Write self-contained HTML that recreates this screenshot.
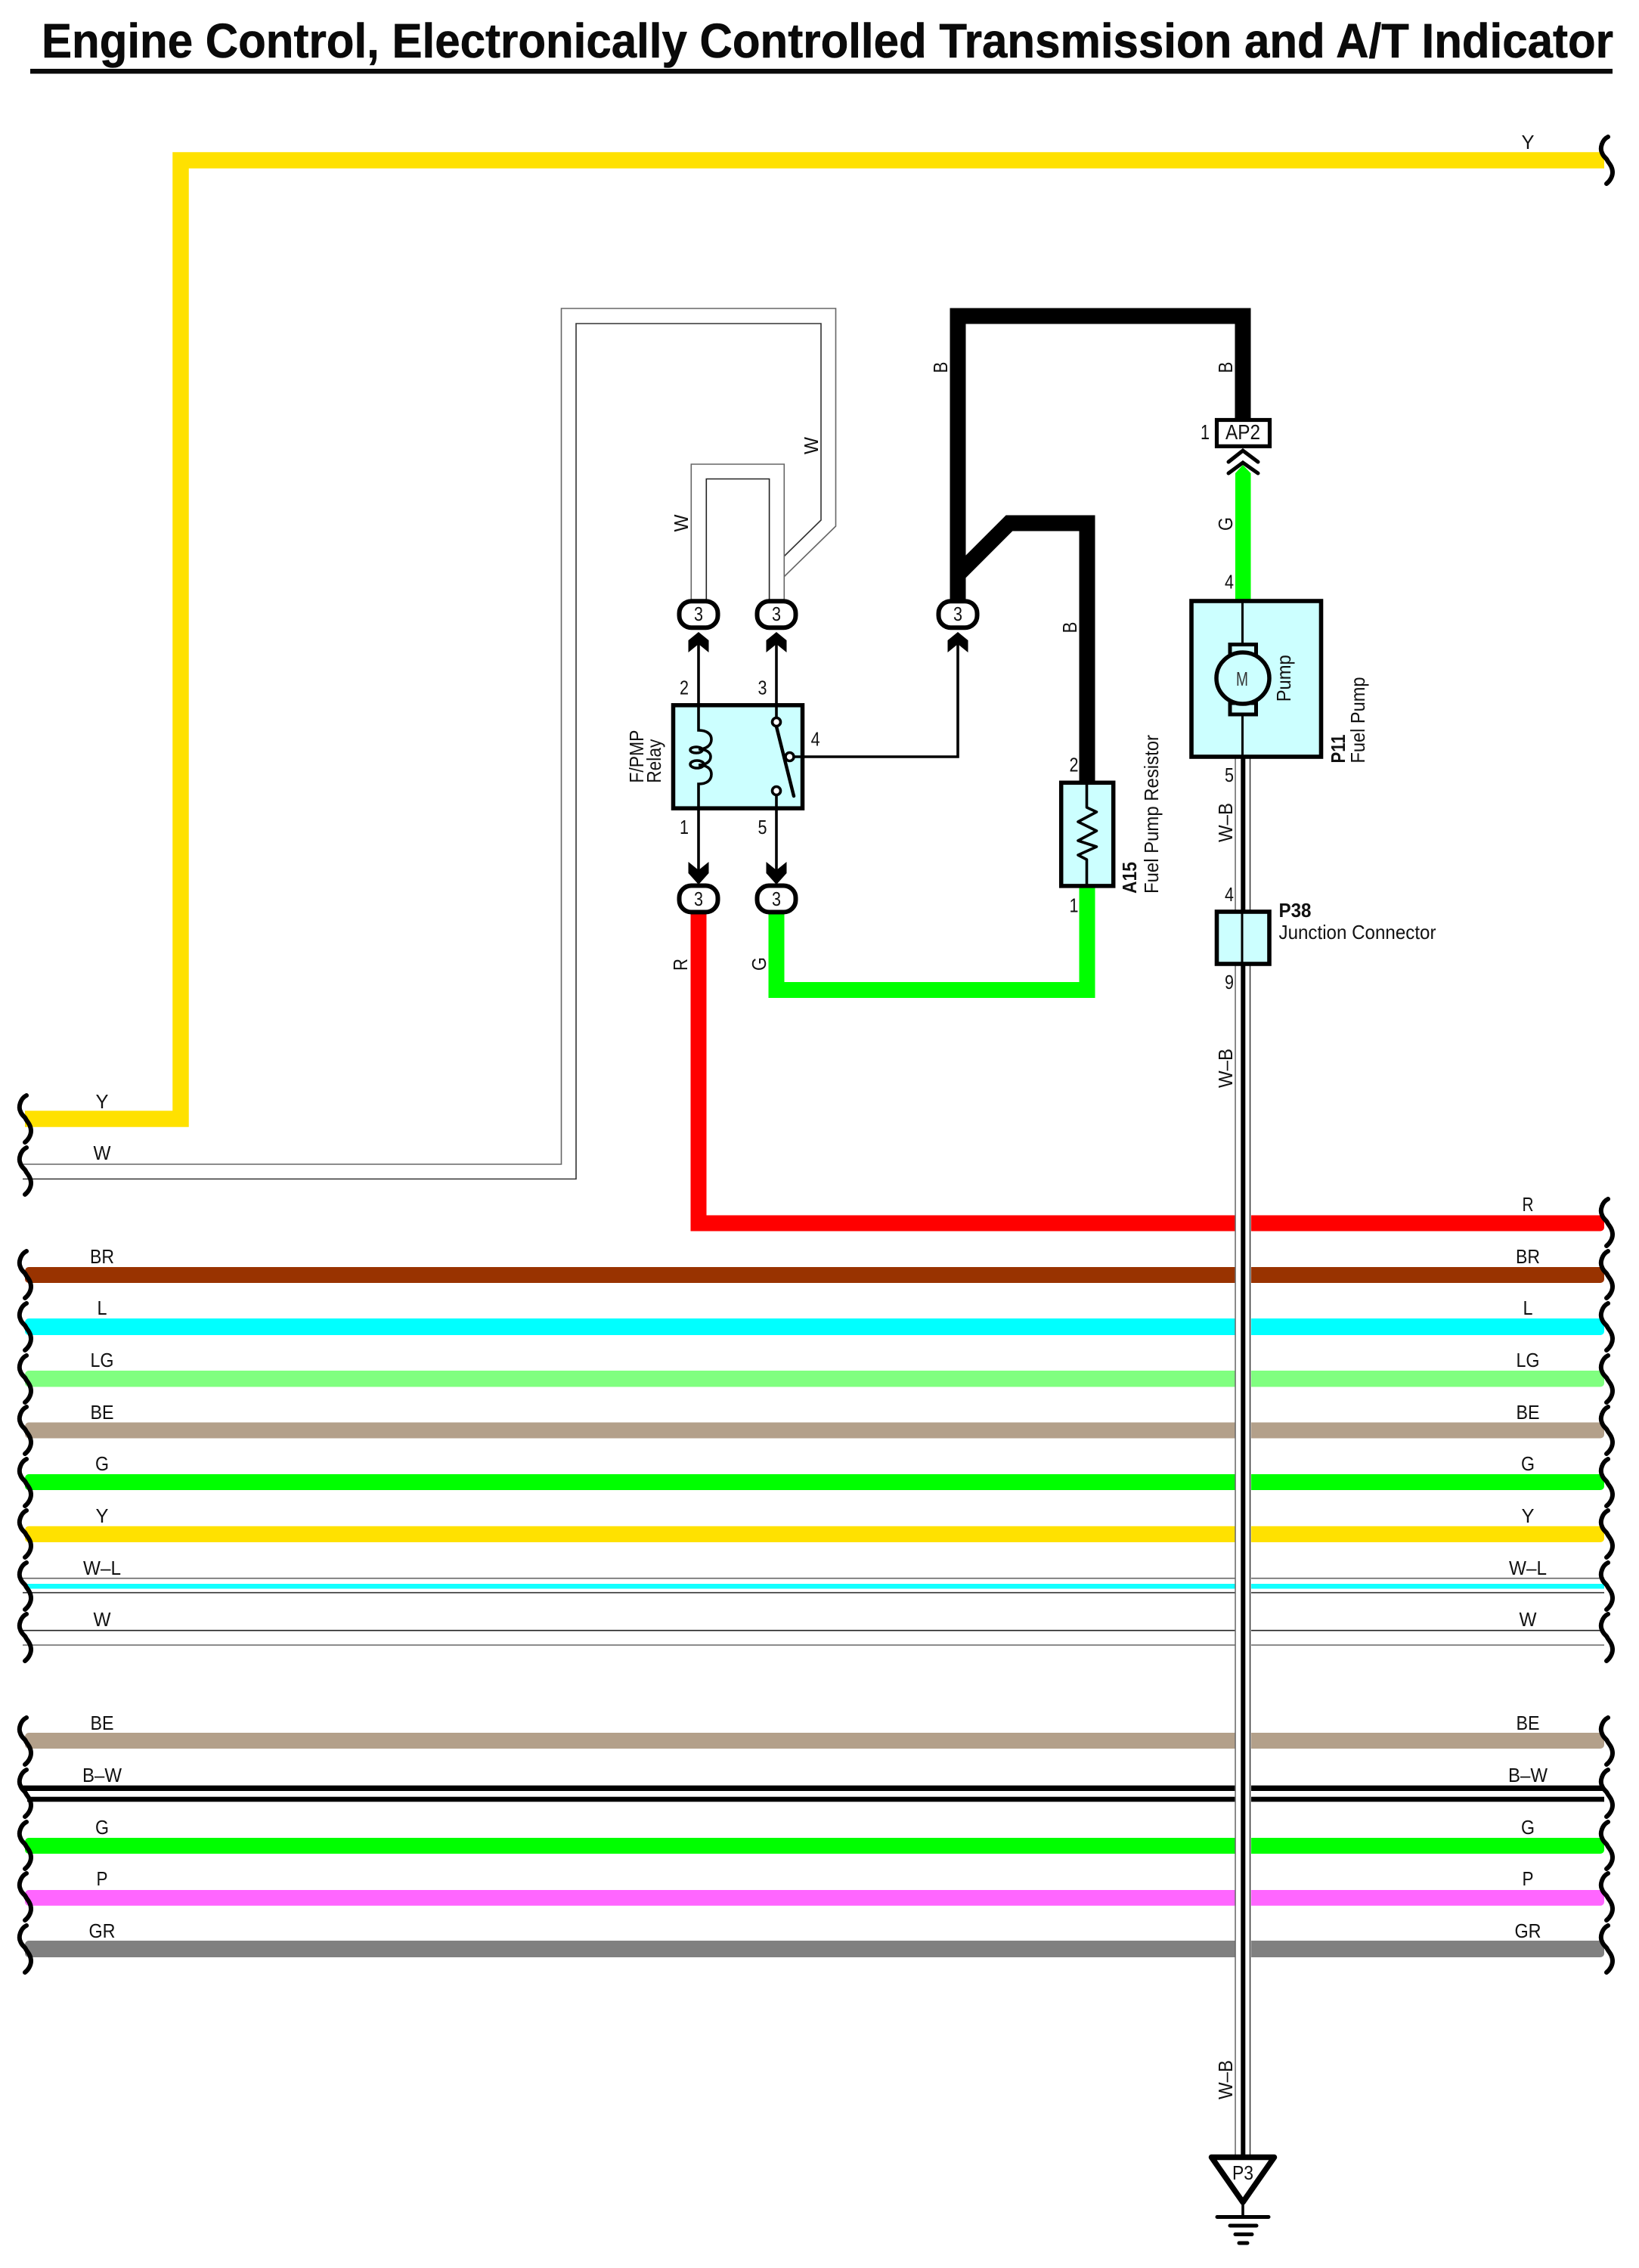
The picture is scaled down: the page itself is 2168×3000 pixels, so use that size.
<!DOCTYPE html>
<html>
<head>
<meta charset="utf-8">
<title>Engine Control, Electronically Controlled Transmission and A/T Indicator</title>
<style>
html,body{margin:0;padding:0;background:#fff;}
svg{display:block;}
text{font-family:"Liberation Sans",sans-serif;font-size:26px;fill:#111;}
.m{text-anchor:middle;}
.b{font-weight:bold;}
</style>
</head>
<body>
<svg xmlns="http://www.w3.org/2000/svg" width="2168" height="3000" viewBox="0 0 2168 3000">
<defs>
<path id="brace" d="M35,-31 C27,-27 24,-16 27,-10 C29,-4 33,-3 34,0 C36,4 41,8 41,16 C41,22 37,28 33,31" fill="none" stroke="#000" stroke-width="6" stroke-linecap="round"/>
</defs>
<rect width="2168" height="3000" fill="#fff"/>

<!-- Title -->
<text x="55" y="76" class="b" style="font-size:64px;fill:#0a0a0a;stroke:#0a0a0a;stroke-width:.6px" textLength="2079" lengthAdjust="spacingAndGlyphs">Engine Control, Electronically Controlled Transmission and A/T Indicator</text>
<rect x="40" y="91" width="2093" height="6.5" fill="#0a0a0a"/>

<!-- Yellow wire top -->
<path d="M33,1480 H239 V212 H2122" fill="none" stroke="#ffe100" stroke-width="21.5"/>

<!-- Left W wire -->
<g fill="none" stroke="#666" stroke-width="1.6">
<path d="M30,1540 H742.5 V408 H1105.5 V696 L1037.5,762.5"/>
<path d="M30,1559.5 H762 V428 H1086 V688 L1037.5,735.5" stroke="#333"/>
<path d="M914.3,794 V614 H1037.3 V794"/>
<path d="M934.3,794 V633.5 H1017.6 V794" stroke="#222"/>
</g>

<!-- Horizontal harness rows -->
<g>
<path d="M924,1200 V1618 H1645" fill="none" stroke="#ff0000" stroke-width="21"/>
<rect x="1645" y="1607.5" width="477" height="21" rx="5" fill="#ff0000"/>

<rect x="33" y="1676" width="1611" height="21" rx="5" fill="#993300"/><rect x="1645" y="1676" width="477" height="21" rx="5" fill="#993300"/>
<rect x="33" y="1744" width="1611" height="22" rx="5" fill="#00ffff"/><rect x="1645" y="1744" width="477" height="22" rx="5" fill="#00ffff"/>
<rect x="33" y="1813" width="1611" height="21.5" rx="5" fill="#80ff80"/><rect x="1645" y="1813" width="477" height="21.5" rx="5" fill="#80ff80"/>
<rect x="33" y="1881.5" width="1611" height="21" rx="5" fill="#b3a08a"/><rect x="1645" y="1881.5" width="477" height="21" rx="5" fill="#b3a08a"/>
<rect x="33" y="1950" width="1611" height="21" rx="5" fill="#00ff00"/><rect x="1645" y="1950" width="477" height="21" rx="5" fill="#00ff00"/>
<rect x="33" y="2018.7" width="1611" height="21.3" rx="5" fill="#ffe100"/><rect x="1645" y="2018.7" width="477" height="21.3" rx="5" fill="#ffe100"/>

<!-- W-L -->
<g fill="none" stroke="#666" stroke-width="1.6">
<path d="M30,2087.7 H1634 M1655,2087.7 H2122"/>
<path d="M30,2106.7 H1634 M1655,2106.7 H2122" stroke="#333"/>
<path d="M30,2156.7 H1634 M1655,2156.7 H2122" stroke="#222"/>
<path d="M30,2176 H1634 M1655,2176 H2122"/>
</g>
<rect x="33" y="2095" width="1611" height="6.5" fill="#1ff"/><rect x="1645" y="2095" width="477" height="6.5" fill="#1ff"/>

<rect x="33" y="2292" width="1611" height="21" rx="5" fill="#b3a08a"/><rect x="1645" y="2292" width="477" height="21" rx="5" fill="#b3a08a"/>
<!-- B-W -->
<rect x="30" y="2361.7" width="1604" height="7.3" fill="#000"/><rect x="1655" y="2361.7" width="467" height="7.3" fill="#000"/>
<rect x="36" y="2376.7" width="1598" height="6.6" fill="#000"/><rect x="1655" y="2376.7" width="467" height="6.6" fill="#000"/>
<rect x="33" y="2431" width="1611" height="21" rx="5" fill="#00ff00"/><rect x="1645" y="2431" width="477" height="21" rx="5" fill="#00ff00"/>
<rect x="33" y="2500" width="1611" height="20.7" rx="5" fill="#ff66ff"/><rect x="1645" y="2500" width="477" height="20.7" rx="5" fill="#ff66ff"/>
<rect x="33" y="2567" width="1611" height="22" rx="5" fill="#808080"/><rect x="1645" y="2567" width="477" height="22" rx="5" fill="#808080"/>
<!-- White gap around the vertical W-B wire -->
<rect x="1634" y="1600" width="21" height="1000" fill="#fff"/>
</g>

<!-- Braces left -->
<use href="#brace" x="0" y="1480"/><use href="#brace" x="0" y="1549"/>
<use href="#brace" x="0" y="1686"/><use href="#brace" x="0" y="1755"/><use href="#brace" x="0" y="1824"/><use href="#brace" x="0" y="1892"/><use href="#brace" x="0" y="1961"/><use href="#brace" x="0" y="2029"/><use href="#brace" x="0" y="2098"/><use href="#brace" x="0" y="2166"/>
<use href="#brace" x="0" y="2303"/><use href="#brace" x="0" y="2372"/><use href="#brace" x="0" y="2441"/><use href="#brace" x="0" y="2509"/><use href="#brace" x="0" y="2578"/>
<!-- Braces right -->
<use href="#brace" x="2092" y="212"/>
<use href="#brace" x="2092" y="1617"/><use href="#brace" x="2092" y="1686"/><use href="#brace" x="2092" y="1755"/><use href="#brace" x="2092" y="1824"/><use href="#brace" x="2092" y="1892"/><use href="#brace" x="2092" y="1961"/><use href="#brace" x="2092" y="2029"/><use href="#brace" x="2092" y="2098"/><use href="#brace" x="2092" y="2166"/>
<use href="#brace" x="2092" y="2303"/><use href="#brace" x="2092" y="2372"/><use href="#brace" x="2092" y="2441"/><use href="#brace" x="2092" y="2509"/><use href="#brace" x="2092" y="2578"/>

<!-- Row labels left -->
<g class="m">
<text class="m" x="135" y="1466" textLength="17" lengthAdjust="spacingAndGlyphs">Y</text>
<text class="m" x="135" y="1534" textLength="23" lengthAdjust="spacingAndGlyphs">W</text>
<text class="m" x="135" y="1671" textLength="32" lengthAdjust="spacingAndGlyphs">BR</text>
<text class="m" x="135" y="1739" textLength="13" lengthAdjust="spacingAndGlyphs">L</text>
<text class="m" x="135" y="1808" textLength="31" lengthAdjust="spacingAndGlyphs">LG</text>
<text class="m" x="135" y="1877" textLength="31" lengthAdjust="spacingAndGlyphs">BE</text>
<text class="m" x="135" y="1945" textLength="18" lengthAdjust="spacingAndGlyphs">G</text>
<text class="m" x="135" y="2014" textLength="17" lengthAdjust="spacingAndGlyphs">Y</text>
<text class="m" x="135" y="2083" textLength="50" lengthAdjust="spacingAndGlyphs">W–L</text>
<text class="m" x="135" y="2151" textLength="23" lengthAdjust="spacingAndGlyphs">W</text>
<text class="m" x="135" y="2288" textLength="31" lengthAdjust="spacingAndGlyphs">BE</text>
<text class="m" x="135" y="2357" textLength="52" lengthAdjust="spacingAndGlyphs">B–W</text>
<text class="m" x="135" y="2426" textLength="18" lengthAdjust="spacingAndGlyphs">G</text>
<text class="m" x="135" y="2494" textLength="15" lengthAdjust="spacingAndGlyphs">P</text>
<text class="m" x="135" y="2563" textLength="35" lengthAdjust="spacingAndGlyphs">GR</text>
<!-- Row labels right -->
<text class="m" x="2021" y="197" textLength="17" lengthAdjust="spacingAndGlyphs">Y</text>
<text class="m" x="2021" y="1602" textLength="15" lengthAdjust="spacingAndGlyphs">R</text>
<text class="m" x="2021" y="1671" textLength="32" lengthAdjust="spacingAndGlyphs">BR</text>
<text class="m" x="2021" y="1739" textLength="13" lengthAdjust="spacingAndGlyphs">L</text>
<text class="m" x="2021" y="1808" textLength="31" lengthAdjust="spacingAndGlyphs">LG</text>
<text class="m" x="2021" y="1877" textLength="31" lengthAdjust="spacingAndGlyphs">BE</text>
<text class="m" x="2021" y="1945" textLength="18" lengthAdjust="spacingAndGlyphs">G</text>
<text class="m" x="2021" y="2014" textLength="17" lengthAdjust="spacingAndGlyphs">Y</text>
<text class="m" x="2021" y="2083" textLength="50" lengthAdjust="spacingAndGlyphs">W–L</text>
<text class="m" x="2021" y="2151" textLength="23" lengthAdjust="spacingAndGlyphs">W</text>
<text class="m" x="2021" y="2288" textLength="31" lengthAdjust="spacingAndGlyphs">BE</text>
<text class="m" x="2021" y="2357" textLength="52" lengthAdjust="spacingAndGlyphs">B–W</text>
<text class="m" x="2021" y="2426" textLength="18" lengthAdjust="spacingAndGlyphs">G</text>
<text class="m" x="2021" y="2494" textLength="15" lengthAdjust="spacingAndGlyphs">P</text>
<text class="m" x="2021" y="2563" textLength="35" lengthAdjust="spacingAndGlyphs">GR</text>
</g>

<!-- Thick black wires -->
<path d="M1267,800 V418 H1644 V556" fill="none" stroke="#000" stroke-width="21"/>
<path d="M1267,760 L1335,692 H1438 V1036" fill="none" stroke="#000" stroke-width="21"/>

<!-- Green wires -->
<path d="M1027,1200 V1309.5 H1438 V1172" fill="none" stroke="#00ff00" stroke-width="21"/>
<polygon points="1634,626 1644,615 1654.5,626 1654.5,796 1634,796" fill="#00ff00"/>

<!-- Vertical W-B -->
<rect x="1633.3" y="1003" width="1.5" height="1848" fill="#666"/>
<rect x="1652.8" y="1003" width="1.5" height="1848" fill="#333"/>
<rect x="1641.3" y="1003" width="6" height="1848" fill="#000"/>

<!-- Relay thin lines and arrows -->
<g fill="none" stroke="#000" stroke-width="3.6">
<path d="M924,840 V966"/>
<path d="M924,1037 V1165"/>
<path d="M1027,840 V950"/>
<path d="M1027,1051 V1165"/>
<path d="M1050,1001 H1267 V840"/>
</g>
<g fill="#000">
<polygon points="924,836 937.5,847 937.5,863 924,852 910.5,863 910.5,847"/>
<polygon points="1027,836 1040.5,847 1040.5,863 1027,852 1013.5,863 1013.5,847"/>
<polygon points="1267,836 1280.5,847 1280.5,863 1267,852 1253.5,863 1253.5,847"/>
<polygon points="924,1170 937.5,1155 937.5,1140 924,1151 910.5,1140 910.5,1155"/>
<polygon points="1027,1170 1040.5,1155 1040.5,1140 1027,1151 1013.5,1140 1013.5,1155"/>
</g>

<!-- Relay box -->
<rect x="890.5" y="932.8" width="171" height="136.4" fill="#ccffff" stroke="#000" stroke-width="5.5"/>
<g fill="none" stroke="#000" stroke-width="3.6">
<path d="M924,930 V966 C935,966 941,971 941,978 C941,986 934,991 924,991 C934,991 940,995 940,1001 C940,1007 934,1012 924,1012 C934,1012 941,1016 941,1024 C941,1032 935,1037 924,1037 V1072"/>
<ellipse cx="921" cy="992" rx="8" ry="4"/>
<ellipse cx="922" cy="1011" rx="9" ry="5"/>
<line x1="1027" y1="961" x2="1050" y2="1053" stroke-width="4.5" stroke-linecap="round"/>
<circle cx="1027" cy="955" r="5.5" fill="#fff"/>
<circle cx="1044.5" cy="1001" r="5.5" fill="#fff"/>
<circle cx="1027" cy="1046" r="5.5" fill="#fff"/>
<path d="M1027,930 V950 M1027,1052 V1072 M1050,1001 H1064"/>
</g>

<!-- Ovals -->
<g fill="#fff" stroke="#000" stroke-width="6">
<rect x="898.5" y="795.2" width="51" height="35" rx="16"/>
<rect x="1001.5" y="795.2" width="51" height="35" rx="16"/>
<rect x="1241.5" y="795.2" width="51" height="35" rx="16"/>
<rect x="898.5" y="1171.5" width="51" height="35" rx="16"/>
<rect x="1001.5" y="1171.5" width="51" height="35" rx="16"/>
</g>
<text class="m" x="924" y="821" textLength="12" lengthAdjust="spacingAndGlyphs">3</text>
<text class="m" x="1027" y="821" textLength="12" lengthAdjust="spacingAndGlyphs">3</text>
<text class="m" x="1267" y="821" textLength="12" lengthAdjust="spacingAndGlyphs">3</text>
<text class="m" x="924" y="1198" textLength="12" lengthAdjust="spacingAndGlyphs">3</text>
<text class="m" x="1027" y="1198" textLength="12" lengthAdjust="spacingAndGlyphs">3</text>

<!-- Relay pin labels -->
<text class="m" x="905" y="918.7" textLength="12" lengthAdjust="spacingAndGlyphs">2</text>
<text class="m" x="1008.5" y="918.7" textLength="12" lengthAdjust="spacingAndGlyphs">3</text>
<text class="m" x="1078.6" y="986.6" textLength="12" lengthAdjust="spacingAndGlyphs">4</text>
<text class="m" x="905" y="1103" textLength="12" lengthAdjust="spacingAndGlyphs">1</text>
<text class="m" x="1008.5" y="1103" textLength="12" lengthAdjust="spacingAndGlyphs">5</text>
<text class="m" transform="translate(851,1000.6) rotate(-90)" textLength="70" lengthAdjust="spacingAndGlyphs">F/PMP</text>
<text transform="translate(874,1035.7) rotate(-90)" textLength="58" lengthAdjust="spacingAndGlyphs">Relay</text>

<!-- Resistor A15 -->
<rect x="1403.7" y="1035.3" width="69" height="136.6" fill="#ccffff" stroke="#000" stroke-width="5.5"/>
<path d="M1437.5,1035 V1068 L1450.5,1074 L1426,1087 L1450.5,1099 L1426,1112 L1450.5,1120 L1426,1131 L1437.5,1137 V1172" fill="none" stroke="#000" stroke-width="3.6" stroke-linejoin="round"/>
<text class="m" x="1420.5" y="1020.5" textLength="12" lengthAdjust="spacingAndGlyphs">2</text>
<text class="m" x="1420.5" y="1206.7" textLength="12" lengthAdjust="spacingAndGlyphs">1</text>
<text class="b" transform="translate(1503,1182) rotate(-90)" textLength="42" lengthAdjust="spacingAndGlyphs">A15</text>
<text transform="translate(1532,1182) rotate(-90)" textLength="210" lengthAdjust="spacingAndGlyphs">Fuel Pump Resistor</text>

<!-- AP2 -->
<rect x="1609.5" y="555.5" width="70" height="34.8" fill="#fff" stroke="#000" stroke-width="5.2"/>
<text class="m" x="1644" y="581" style="font-size:28px" textLength="46" lengthAdjust="spacingAndGlyphs">AP2</text>
<text class="m" x="1594" y="581" style="font-size:28px" textLength="12" lengthAdjust="spacingAndGlyphs">1</text>
<path d="M1625,611 L1644,596 L1664,611 M1625,626 L1644,612 L1664,626" fill="none" stroke="#000" stroke-width="5" stroke-linecap="round"/>

<!-- Pump -->
<rect x="1576" y="795" width="171.5" height="206" fill="#ccffff" stroke="#000" stroke-width="5.6"/>
<path d="M1643.5,795 V852 M1643.5,945 V1001" stroke="#000" stroke-width="3" fill="none"/>
<rect x="1627" y="852.5" width="34.5" height="16" fill="#ccffff" stroke="#000" stroke-width="5"/>
<rect x="1627" y="930" width="34.5" height="15" fill="#ccffff" stroke="#000" stroke-width="5"/>
<ellipse cx="1644" cy="897" rx="35" ry="34" fill="#ccffff" stroke="#000" stroke-width="5.5"/>
<text class="m" x="1643" y="907" style="fill:#333" textLength="16" lengthAdjust="spacingAndGlyphs">M</text>
<text class="m" transform="translate(1707,897.3) rotate(-90)" textLength="62" lengthAdjust="spacingAndGlyphs">Pump</text>
<text class="b" transform="translate(1779,1009.5) rotate(-90)" textLength="38" lengthAdjust="spacingAndGlyphs">P11</text>
<text transform="translate(1805,1009.5) rotate(-90)" textLength="114" lengthAdjust="spacingAndGlyphs">Fuel Pump</text>
<text class="m" x="1626" y="778.6" textLength="12" lengthAdjust="spacingAndGlyphs">4</text>
<text class="m" x="1626" y="1034" textLength="12" lengthAdjust="spacingAndGlyphs">5</text>

<!-- P38 -->
<rect x="1609.5" y="1206" width="69.5" height="69" fill="#ccffff" stroke="#000" stroke-width="5.6"/>
<rect x="1641.5" y="1203" width="3" height="75" fill="#000"/>
<text class="m" x="1626" y="1192" textLength="12" lengthAdjust="spacingAndGlyphs">4</text>
<text class="m" x="1626" y="1308" textLength="12" lengthAdjust="spacingAndGlyphs">9</text>
<text class="b" x="1691.5" y="1213" textLength="43" lengthAdjust="spacingAndGlyphs">P38</text>
<text x="1691.5" y="1242" textLength="208" lengthAdjust="spacingAndGlyphs">Junction Connector</text>

<!-- Rotated wire labels -->
<text class="m" transform="translate(1630,486) rotate(-90)" textLength="15" lengthAdjust="spacingAndGlyphs">B</text>
<text class="m" transform="translate(1630,693) rotate(-90)" textLength="18" lengthAdjust="spacingAndGlyphs">G</text>
<text class="m" transform="translate(1630,1088) rotate(-90)" textLength="52" lengthAdjust="spacingAndGlyphs">W–B</text>
<text class="m" transform="translate(1630,1413) rotate(-90)" textLength="52" lengthAdjust="spacingAndGlyphs">W–B</text>
<text class="m" transform="translate(1630,2751) rotate(-90)" textLength="52" lengthAdjust="spacingAndGlyphs">W–B</text>
<text class="m" transform="translate(1253,486) rotate(-90)" textLength="15" lengthAdjust="spacingAndGlyphs">B</text>
<text class="m" transform="translate(1424,830) rotate(-90)" textLength="15" lengthAdjust="spacingAndGlyphs">B</text>
<text class="m" transform="translate(1082,589.5) rotate(-90)" textLength="23" lengthAdjust="spacingAndGlyphs">W</text>
<text class="m" transform="translate(910,692) rotate(-90)" textLength="23" lengthAdjust="spacingAndGlyphs">W</text>
<text class="m" transform="translate(909,1276) rotate(-90)" textLength="16" lengthAdjust="spacingAndGlyphs">R</text>
<text class="m" transform="translate(1013,1275) rotate(-90)" textLength="18" lengthAdjust="spacingAndGlyphs">G</text>

<!-- Ground P3 -->
<polygon points="1602.5,2853.5 1685.5,2853.5 1644,2913" fill="#fff" stroke="#000" stroke-width="7.5" stroke-linejoin="round"/>
<text class="m" x="1644" y="2883" textLength="28" lengthAdjust="spacingAndGlyphs">P3</text>
<g stroke="#000" stroke-linecap="round" fill="none">
<path d="M1644,2915 V2932" stroke-width="3.6"/>
<path d="M1610,2932.5 H1678" stroke-width="5"/>
<path d="M1627,2944 H1662" stroke-width="5"/>
<path d="M1634,2955.5 H1656" stroke-width="5"/>
<path d="M1639,2967 H1650" stroke-width="5"/>
</g>
</svg>
</body>
</html>
